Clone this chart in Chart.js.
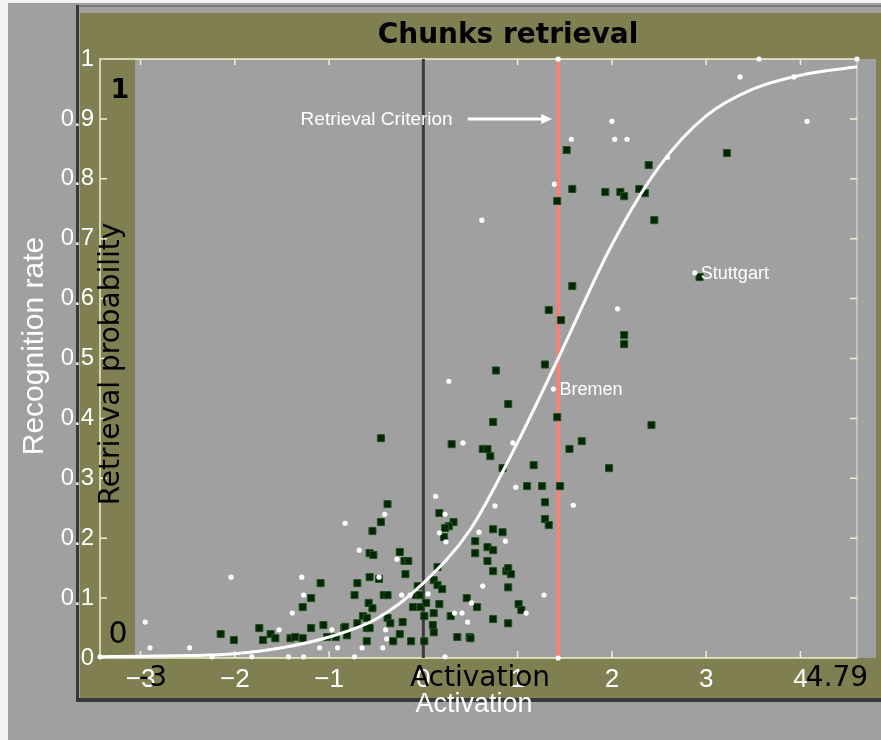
<!DOCTYPE html>
<html>
<head>
<meta charset="utf-8">
<title>Chunks retrieval</title>
<script src="https://cdn.jsdelivr.net/npm/chart.js@4.4.1/dist/chart.umd.min.js"></script>
<style>
    html, body { margin: 0; padding: 0; background: #a0a0a0; overflow: hidden; }
    canvas { display: block; }
</style>
</head>
<body>
<canvas id="chunksChart" width="881" height="740"></canvas>
<script>
/**
 * Chunks retrieval - activation vs. recognition / retrieval probability
 */

// axes
const xMin = -3.43;
const xMax = 4.6;
const xTicks = [-3, -2, -1, 0, 1, 2, 3, 4];
const yTicks = [0, 0.1, 0.2, 0.3, 0.4, 0.5, 0.6, 0.7, 0.8, 0.9, 1];

// retrieval threshold (red line)
const criterion = 1.43;

// logistic retrieval curve
const curveX = [-3.43, -3, -2.5, -2, -1.5, -1, -0.5, 0, 0.5, 1, 1.43, 2, 2.5, 3, 3.5, 4, 4.6];
const curveY = [0.002, 0.003, 0.004, 0.007, 0.017, 0.035, 0.065, 0.125, 0.215, 0.36, 0.5, 0.69, 0.82, 0.905, 0.95, 0.973, 0.987];

// dark green squares
const recogX = [
    -2.15, -2.01, -1.74, -1.70, -1.62, -1.57, -1.41, -1.36, -1.28, -1.28, -1.19, -1.09, -1.19, -1.06, -1.02, -0.93, -0.84, -0.81,
    -0.38, -0.45, -0.54, -0.57, -0.53, -0.25, -0.20, -0.16, -0.19, -0.70, -0.57, -0.47, -0.42, -0.38, -0.73, -0.58, -0.54, -0.64,
    -0.60, -0.70, -0.83, -0.38, -0.35, -0.22, -0.60, -0.57, -0.25, -0.32, -0.60, -0.13,
    0.17, 0.32, 0.27, 0.23, 0.22, 0.55, 0.55, 0.68, 0.68, -0.06, -0.08, -0.04, -0.11, -0.03, 0.03, 0.11, 0.15, 0.20, 0.17, 0.11,
    0.01, 0.10, 0.11, 0.29, 0.46, 0.57, 0.36, 0.49, 0.01, 0.15,
    1.10, 1.26, 1.45, 1.29, 1.29, 1.33, 0.74, 0.84, 0.74, 0.74, 0.88, 0.90, 0.93, 0.90, 1.01, 1.04, 0.74, 0.90, 0.50,
    0.77, 1.29, 0.90, 0.74, 1.42, 0.30, 0.63, 0.68, 0.71, 0.84, 1.17, 1.55, 1.68,
    1.52, 2.39, 1.58, 1.93, 2.09, 2.13, 2.29, 2.35, 1.42, 2.45, 1.58, 1.33, 1.46, 2.13, 2.13, 2.93, 2.42, 1.97, 3.22, -0.45
];
const recogY = [
    0.04, 0.03, 0.05, 0.03, 0.04, 0.033, 0.033, 0.035, 0.033, 0.085, 0.10, 0.125, 0.05, 0.055, 0.035, 0.035, 0.05, 0.038,
    0.257, 0.227, 0.212, 0.175, 0.172, 0.177, 0.162, 0.162, 0.14, 0.125, 0.135, 0.132, 0.105, 0.105, 0.105, 0.092, 0.083, 0.07,
    0.067, 0.058, 0.052, 0.067, 0.058, 0.06, 0.05, 0.05, 0.04, 0.028, 0.028, 0.028,
    0.242, 0.227, 0.22, 0.217, 0.202, 0.195, 0.175, 0.185, 0.162, 0.12, 0.105, 0.105, 0.085, 0.085, 0.092, 0.13, 0.122, 0.115, 0.09, 0.075,
    0.07, 0.055, 0.043, 0.07, 0.10, 0.085, 0.035, 0.035, 0.028, 0.152,
    0.287, 0.287, 0.287, 0.26, 0.232, 0.222, 0.215, 0.21, 0.18, 0.145, 0.145, 0.15, 0.14, 0.118, 0.09, 0.08, 0.065, 0.058, 0.033,
    0.48, 0.49, 0.424, 0.394, 0.402, 0.357, 0.349, 0.349, 0.337, 0.317, 0.322, 0.349, 0.362,
    0.848, 0.823, 0.783, 0.778, 0.778, 0.771, 0.783, 0.776, 0.763, 0.731, 0.621, 0.581, 0.564, 0.539, 0.524, 0.636, 0.389, 0.317, 0.843, 0.367
];

// white dots
const chunkX = [
    -2.48, -2.95, -2.90, -2.04, -1.29, -1.27, -1.39, -1.53, -0.83, -0.97, -1.10, -0.91, -2.24, -1.82, -1.43, -1.27, -3.43,
    -0.68, -0.41, -0.28, -0.47, -0.23, -0.14, 0.05, 0.13, 0.23, 0.17, 0.24, 0.59, 0.63, 0.33, 0.41, 0.47, 0.51, -0.40, -0.39,
    -0.65, -0.43, -0.73, 0.23,
    0.98, 0.76, 1.59, 0.87, 1.28, 1.09, 0.27, 1.38, 0.42, 0.95,
    2.00, 1.57, 2.03, 2.16, 2.59, 1.39, 2.06, 2.88, 3.36, 3.93, 4.07, 0.62, 3.56, 4.60, 1.43, 1.43
];
const chunkY = [
    0.017, 0.06, 0.017, 0.135, 0.135, 0.105, 0.075, 0.047, 0.225, 0.047, 0.017, 0.017, 0.002, 0.002, 0.002, 0.002, 0.002,
    0.18, 0.24, 0.165, 0.135, 0.105, 0.105, 0.107, 0.27, 0.24, 0.209, 0.194, 0.21, 0.12, 0.075, 0.075, 0.06, 0.092, 0.047, 0.032,
    0.017, 0.017, 0.002, 0.002,
    0.285, 0.254, 0.255, 0.195, 0.105, 0.075, 0.462, 0.449, 0.359, 0.359,
    0.896, 0.866, 0.866, 0.866, 0.836, 0.791, 0.583, 0.643, 0.97, 0.97, 0.896, 0.731, 1.0, 1.0, 1.0, 0.0
];

// labelled cities
const cityNames = ["Bremen", "Stuttgart"];
const cityX = [1.38, 2.88];
const cityY = [0.449, 0.643];

const OLIVE = "#7f7f52";
const PLOT_BG = "#a0a0a0";
const AXIS = "#f2f0cc";

const zip = (xs, ys) => xs.map((x, i) => ({ x, y: ys[i] }));

/**
 * frame, backgrounds and the overlaid labels
 */
const framePlugin = {
    id: "frame",
    beforeDraw(chart) {
        const { ctx, chartArea: a } = chart;
        ctx.save();
        ctx.fillStyle = PLOT_BG;
        ctx.fillRect(0, 0, 881, 740);
        ctx.fillStyle = "#f2f2f2";
        ctx.fillRect(0, 0, 8, 740);
        ctx.fillRect(0, 0, 881, 3);
        ctx.fillStyle = OLIVE;
        ctx.fillRect(80, 13, 801, 685);
        ctx.fillStyle = PLOT_BG;
        ctx.fillRect(a.left, a.top, 876 - a.left, a.bottom - a.top);
        ctx.fillStyle = OLIVE;
        ctx.fillRect(a.left, a.top, 35, a.bottom - a.top);
        // dark outer border
        ctx.fillStyle = "#7a7a7a";
        ctx.fillRect(76, 5, 805, 2);
        ctx.fillStyle = "#383838";
        ctx.fillRect(76, 5, 3, 697);
        ctx.fillRect(76, 698, 805, 4);
        ctx.restore();
    },
    beforeDatasetsDraw(chart) {
        const { ctx, chartArea: a, scales: { x, y } } = chart;
        ctx.save();
        ctx.strokeStyle = AXIS;
        ctx.lineWidth = 1.5;
        ctx.beginPath();
        ctx.moveTo(a.left, a.bottom);
        ctx.lineTo(a.left, a.top);
        ctx.lineTo(a.right, a.top);
        ctx.moveTo(a.left, a.bottom);
        ctx.lineTo(a.right, a.bottom);
        x.ticks.forEach(t => {
            const px = x.getPixelForValue(t.value);
            ctx.moveTo(px, a.top); ctx.lineTo(px, a.top + 6);
            ctx.moveTo(px, a.bottom); ctx.lineTo(px, a.bottom - 7);
        });
        y.ticks.forEach(t => {
            const py = y.getPixelForValue(t.value);
            ctx.moveTo(a.left, py); ctx.lineTo(a.left + 7, py);
            ctx.moveTo(a.right, py); ctx.lineTo(a.right - 7, py);
        });
        ctx.stroke();
        ctx.strokeStyle = "#e6e6e6";
        ctx.lineWidth = 1;
        ctx.beginPath();
        ctx.moveTo(a.right, a.top);
        ctx.lineTo(a.right, a.bottom);
        ctx.stroke();
        ctx.restore();
    },
    afterDraw(chart) {
        const { ctx, scales: { x, y } } = chart;
        ctx.save();
        ctx.textAlign = "center";
        ctx.textBaseline = "middle";

        // title
        ctx.fillStyle = "#000";
        ctx.font = "bold 28px 'DejaVu Sans'";
        ctx.fillText("Chunks retrieval", 508, 36);

        // black overlay labels
        ctx.font = "bold 27px 'DejaVu Sans'";
        ctx.fillText("1", 120, 91);
        ctx.font = "30px 'DejaVu Sans'";
        ctx.fillText("0", 118, 635);
        ctx.font = "28px 'DejaVu Sans'";
        ctx.fillText("Activation", 480, 679);
        ctx.fillText("-3", 153, 679);
        ctx.fillText("4.79", 837, 679);

        ctx.save();
        ctx.translate(112, 364);
        ctx.rotate(-Math.PI / 2);
        ctx.fillText("Retrieval probability", 0, 0);
        ctx.restore();

        // white labels
        ctx.fillStyle = "#fff";
        ctx.font = "27px 'Liberation Sans'";
        ctx.fillText("Activation", 474, 705);
        ctx.save();
        ctx.translate(35, 346);
        ctx.rotate(-Math.PI / 2);
        ctx.font = "30px 'Liberation Sans'";
        ctx.fillText("Recognition rate", 0, 0);
        ctx.restore();

        // criterion arrow
        const arrowY = y.getPixelForValue(0.9);
        const tipX = x.getPixelForValue(criterion) - 6;
        const startX = x.getPixelForValue(0.47);
        ctx.strokeStyle = "#fff";
        ctx.lineWidth = 3;
        ctx.beginPath();
        ctx.moveTo(startX, arrowY);
        ctx.lineTo(tipX - 8, arrowY);
        ctx.stroke();
        ctx.beginPath();
        ctx.moveTo(tipX, arrowY);
        ctx.lineTo(tipX - 11, arrowY - 5);
        ctx.lineTo(tipX - 11, arrowY + 5);
        ctx.closePath();
        ctx.fill();
        ctx.font = "19px 'Liberation Sans'";
        ctx.textAlign = "right";
        ctx.fillText("Retrieval Criterion", startX - 15, arrowY + 1);

        // city names
        ctx.textAlign = "left";
        ctx.font = "18px 'Liberation Sans'";
        cityNames.forEach((name, i) => {
            ctx.fillText(name, x.getPixelForValue(cityX[i]) + 6, y.getPixelForValue(cityY[i]) + 1);
        });
        ctx.restore();
    }
};

const canvas = document.getElementById("chunksChart");

new Chart(canvas, {
    type: "scatter",
    data: {
        datasets: [
            {
                label: "Retrieval probability",
                data: zip(curveX, curveY),
                showLine: true,
                borderColor: "#ffffff",
                borderWidth: 3,
                pointRadius: 0,
                cubicInterpolationMode: "monotone",
                clip: false,
                order: 1
            },
            {
                label: "Chunks",
                data: zip(chunkX, chunkY),
                pointStyle: "circle",
                pointRadius: 2.6,
                backgroundColor: "#ffffff",
                borderWidth: 0,
                clip: false,
                order: 2
            },
            {
                label: "Recognition rate",
                data: zip(recogX, recogY),
                pointStyle: "rect",
                pointRadius: 5,
                backgroundColor: "#062406",
                borderColor: "#1d561d",
                borderWidth: 1,
                clip: false,
                order: 3
            },
            {
                label: "Criterion",
                data: [{ x: criterion, y: 0 }, { x: criterion, y: 1 }],
                showLine: true,
                borderColor: "#f28379",
                borderWidth: 4,
                pointRadius: 0,
                clip: false,
                order: 4
            },
            {
                label: "Zero",
                data: [{ x: 0, y: 0 }, { x: 0, y: 1 }],
                showLine: true,
                borderColor: "#3a3a3a",
                borderWidth: 3,
                pointRadius: 0,
                clip: false,
                order: 5
            }
        ]
    },
    options: {
        responsive: false,
        animation: false,
        devicePixelRatio: 1,
        layout: { padding: { left: 0, right: 24, top: 59, bottom: 0 } },
        plugins: { legend: { display: false }, tooltip: { enabled: false } },
        scales: {
            x: {
                type: "linear",
                min: xMin,
                max: xMax,
                afterBuildTicks: s => { s.ticks = xTicks.map(v => ({ value: v })); },
                afterFit: s => { s.height = 82; },
                grid: { display: false, drawTicks: false },
                border: { display: false },
                ticks: {
                    color: "#ffffff",
                    font: { family: "Liberation Sans", size: 26 },
                    padding: 6,
                    maxRotation: 0,
                    autoSkip: false,
                    callback: v => String(v).replace("-", "\u2212")
                }
            },
            y: {
                min: 0,
                max: 1,
                afterBuildTicks: s => { s.ticks = yTicks.map(v => ({ value: v })); },
                afterFit: s => { s.width = 100; },
                grid: { display: false, drawTicks: false },
                border: { display: false },
                ticks: {
                    color: "#ffffff",
                    font: { family: "Liberation Sans", size: 24 },
                    padding: 6,
                    autoSkip: false,
                    callback: v => String(v)
                }
            }
        }
    },
    plugins: [framePlugin]
});
</script>
</body>
</html>
